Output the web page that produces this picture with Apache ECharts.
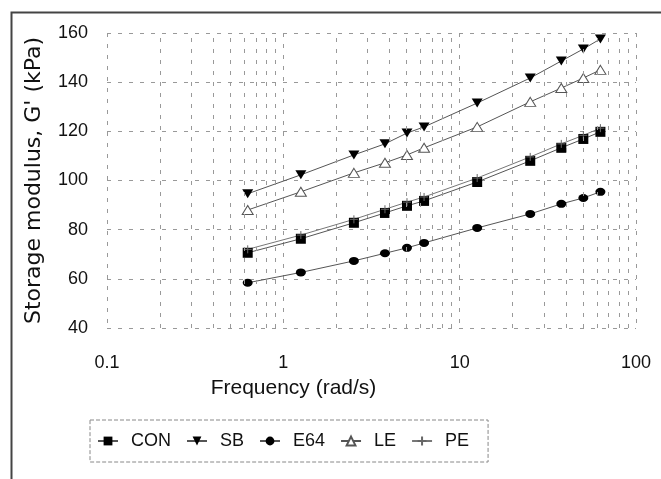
<!DOCTYPE html>
<html>
<head>
<meta charset="utf-8">
<script src="https://cdn.jsdelivr.net/npm/echarts@6/dist/echarts.min.js"></script>
<style>html,body{margin:0;padding:0;background:#fff}#c{width:661px;height:479px}</style>
</head>
<body>
<div id="c"></div>
<script>
var freq = [0.628, 1.257, 2.513, 3.77, 5.027, 6.283, 12.57, 25.13, 37.7, 50.27, 62.83];
var CON = [70.6, 76.3, 82.8, 86.8, 89.7, 91.7, 99.4, 108.0, 113.3, 116.9, 119.8];
var SB  = [94.6, 102.3, 110.4, 114.9, 119.3, 121.8, 131.5, 141.7, 148.6, 153.5, 157.6];
var E64 = [58.4, 62.6, 67.3, 70.4, 72.6, 74.6, 80.7, 86.4, 90.5, 92.9, 95.4];
var LE  = [88.0, 95.4, 103.1, 107.2, 110.4, 113.3, 121.8, 132.0, 137.6, 141.7, 145.0];
var PE  = [72.0, 77.8, 84.2, 88.3, 91.2, 93.3, 101.0, 109.6, 114.9, 118.4, 121.3];
var seriesNames = ['CON', 'SB', 'E64', 'LE', 'PE'];
var minorX = [0.2,0.3,0.4,0.5,0.6,0.7,0.8,0.9,2,3,4,5,6,7,8,9,20,30,40,50,60,70,80,90];

function pairs(ys){ return freq.map(function(f,i){ return [f, ys[i]]; }); }

var FONT = "'Liberation Sans', Arial, sans-serif";
var gridLine = { show: true, lineStyle: { color: '#999', width: 1, type: [4, 7] } };
var lineSty = { color: '#555', width: 1 };

var chart = echarts.init(document.getElementById('c'), null, { renderer: 'canvas' });
chart.setOption({
  animation: false,
  backgroundColor: '#fff',
  textStyle: { fontFamily: FONT },
  graphic: [{
    type: 'rect', left: 9, top: 10, silent: true, z: -1,
    shape: { width: 700, height: 500 },
    style: { fill: 'none', stroke: '#444', lineWidth: 2 }
  }],
  grid: { left: 107, right: 25, top: 33, bottom: 151 },
  legend: {
    left: 90, top: 420,
    padding: [12, 19, 12, 7],
    itemGap: 15, itemWidth: 20, itemHeight: 11,
    borderColor: '#888', borderWidth: 1, borderType: 'dashed',
    data: seriesNames,
    textStyle: { fontSize: 18, color: '#111', fontFamily: FONT, padding: [0, 0, 0, 8] }
  },
  xAxis: {
    type: 'log', logBase: 10, min: 0.1, max: 100,
    name: 'Frequency (rad/s)', nameLocation: 'middle', nameGap: 50,
    nameTextStyle: { fontSize: 21, color: '#111', fontFamily: FONT, padding: [0, 156, 0, 0] },
    axisLine: { show: false }, axisTick: { show: false },
    axisLabel: { fontSize: 18, color: '#111', margin: 26, fontFamily: FONT },
    splitLine: gridLine
  },
  yAxis: {
    type: 'value', min: 40, max: 160, interval: 20,
    name: "Storage modulus, G' (kPa)", nameLocation: 'middle', nameGap: 62,
    nameTextStyle: { fontSize: 22, color: '#111', fontFamily: "'DejaVu Sans', sans-serif" },
    axisLine: { show: false }, axisTick: { show: false },
    axisLabel: { fontSize: 18, color: '#111', margin: 19, fontFamily: FONT },
    splitLine: gridLine
  },
  series: [
    {
      name: 'grid-minor', type: 'line', data: [], silent: true,
      markLine: {
        silent: true, symbol: 'none', label: { show: false },
        lineStyle: { color: '#999', width: 1, type: [4, 7] },
        data: minorX.map(function(v){ return { xAxis: v }; })
      }
    },
    { name: 'CON', type: 'line', data: pairs(CON), symbol: 'rect', symbolSize: 10,
      lineStyle: lineSty, itemStyle: { color: '#000' } },
    { name: 'SB', type: 'line', data: pairs(SB), symbol: 'triangle', symbolRotate: 180, symbolSize: [11, 9],
      lineStyle: lineSty, itemStyle: { color: '#000' } },
    { name: 'E64', type: 'line', data: pairs(E64), symbol: 'circle', symbolSize: [10, 8],
      lineStyle: lineSty, itemStyle: { color: '#000' } },
    { name: 'LE', type: 'line', data: pairs(LE), symbol: 'triangle', symbolSize: [11, 9],
      lineStyle: lineSty, itemStyle: { color: '#fff', borderColor: '#555', borderWidth: 1 } },
    { name: 'PE', type: 'line', data: pairs(PE), symbol: 'path://M5,0L5,10M0,5L10,5', symbolSize: 8,
      lineStyle: { color: '#777', width: 1 }, itemStyle: { color: 'none', borderColor: '#666', borderWidth: 1 } }
  ]
});
</script>
</body>
</html>
